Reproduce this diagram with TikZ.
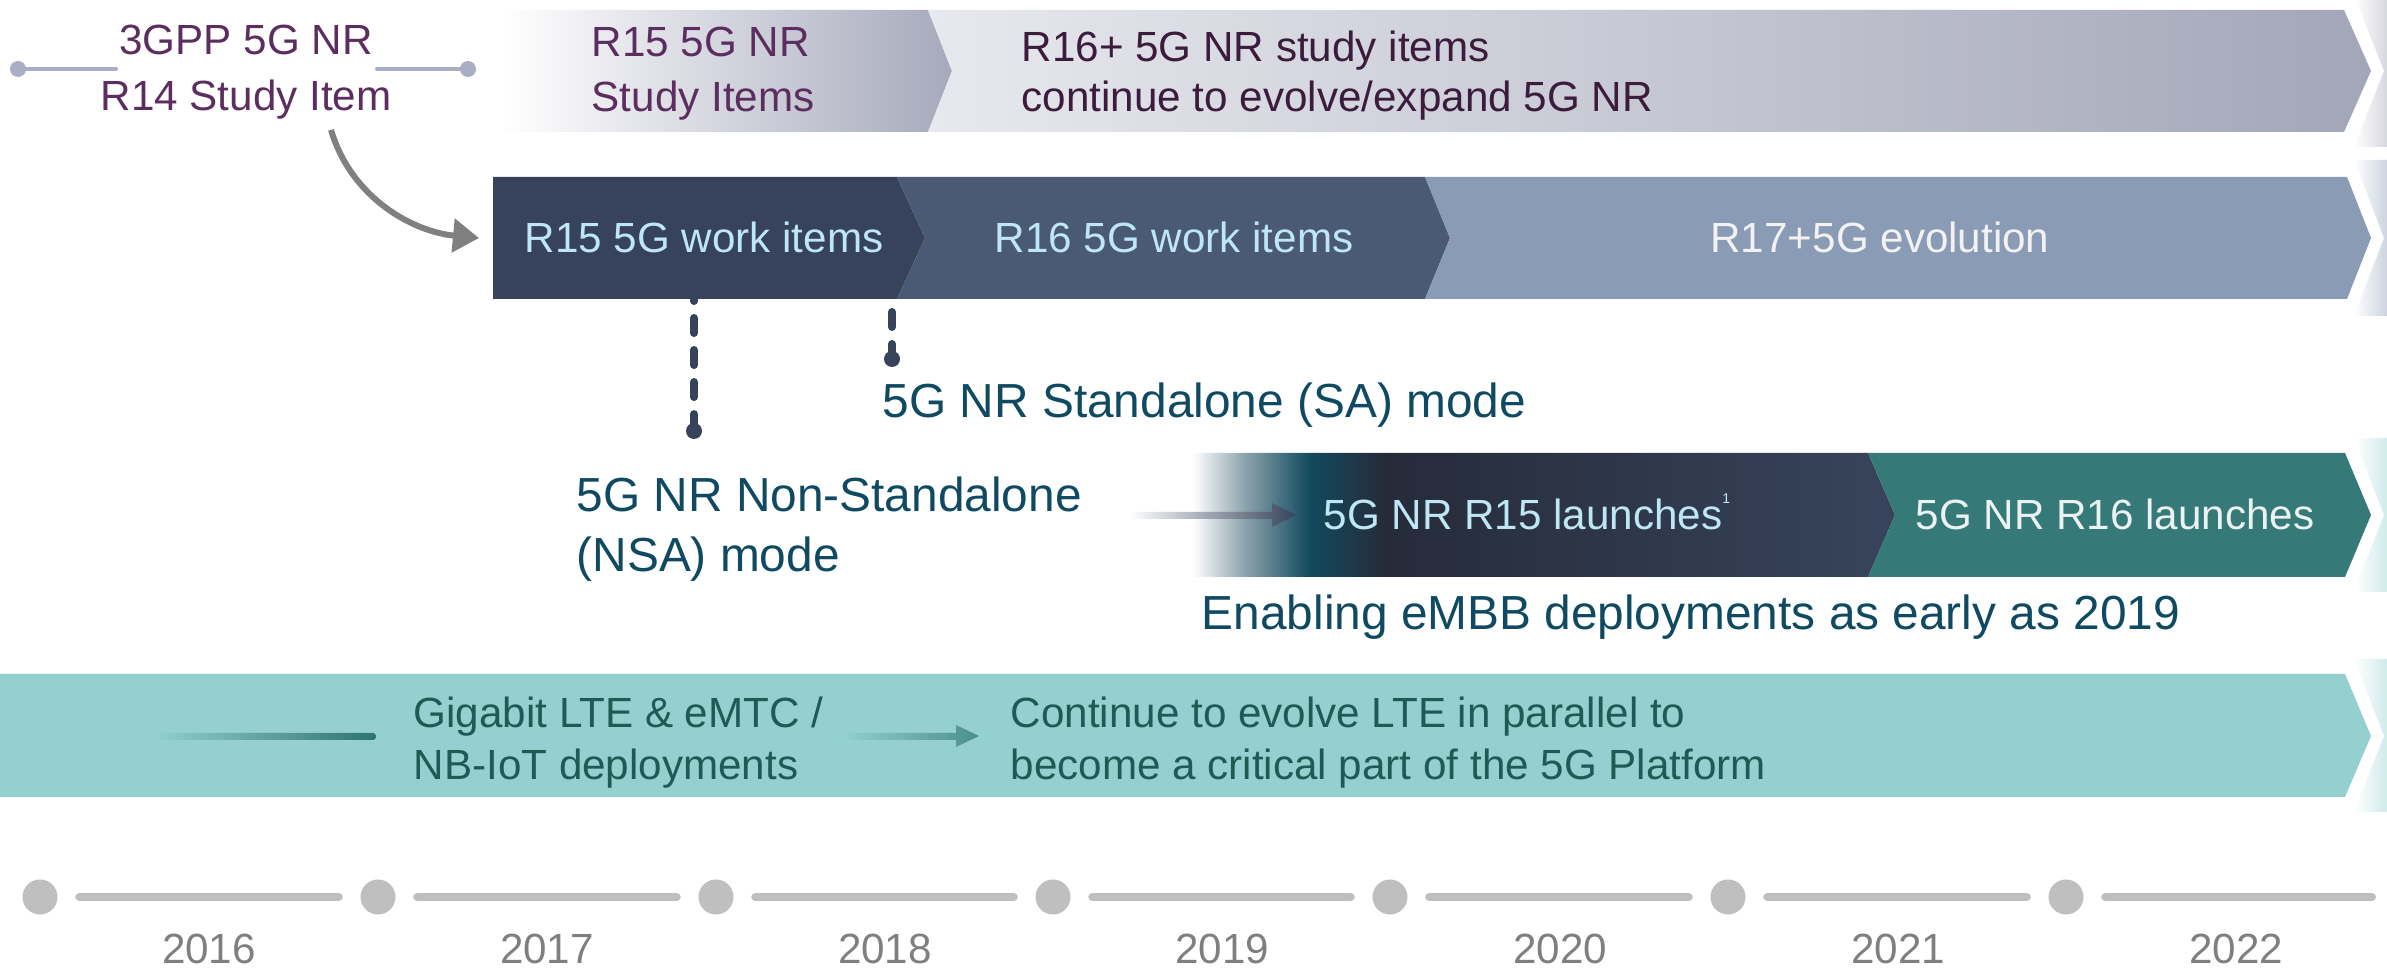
\documentclass[tikz,border=0pt]{standalone}
\usepackage{fontspec}
\setmainfont{Liberation Sans}
\usetikzlibrary{arrows.meta, positioning, calc}
\usepackage{xcolor}
\definecolor{studypurple}{HTML}{5C2E5F}
\definecolor{studydark}{HTML}{3B1C3C}
\definecolor{studymid}{HTML}{A7AABC}
\definecolor{studylight}{HTML}{E8E9EE}
\definecolor{studygrey}{HTML}{A3A6B8}
\definecolor{workdark}{HTML}{36435A}
\definecolor{workmid}{HTML}{4A5A75}
\definecolor{worklight}{HTML}{8A9BB5}
\definecolor{worktext}{HTML}{BFE6F5}
\definecolor{modeteal}{HTML}{0F4A62}
\definecolor{launchteal}{HTML}{357A78}
\definecolor{launchdeep}{HTML}{114A5E}
\definecolor{launchnight}{HTML}{262B3A}
\definecolor{launchhaze}{HTML}{8CA3AD}
\definecolor{ltefill}{HTML}{93D0CF}
\definecolor{ltetext}{HTML}{1F5A55}
\definecolor{ltedark}{HTML}{2E7470}
\definecolor{ltearrow}{HTML}{4A8F8C}
\definecolor{tickgrey}{HTML}{BFBFBF}
\definecolor{yeargrey}{HTML}{7F7F7F}
\definecolor{pingrey}{HTML}{A9AEC4}
\definecolor{bendgrey}{HTML}{808080}
\pgfdeclarehorizontalshading{launchfade}{100bp}{color(0bp)=(white); color(25bp)=(white);
    color(28.7bp)=(launchhaze); color(33.3bp)=(launchdeep); color(38.7bp)=(launchnight);
    color(73bp)=(workdark); color(100bp)=(workdark)}
\tikzset{
    label text/.style={
        inner sep=0pt,
        font=\fontsize{12}{15}\selectfont
    },
    study text/.style={
        label text,
        text=studypurple,
        align=left
    },
    work text/.style={
        label text,
        text=worktext
    },
    mode text/.style={
        inner sep=0pt,
        font=\fontsize{13.6}{17}\selectfont,
        text=modeteal,
        align=left
    },
    lte text/.style={
        label text,
        text=ltetext,
        align=left,
        font=\fontsize{12}{14.8}\selectfont
    },
    year text/.style={
        label text,
        text=yeargrey
    },
    pin dot/.style={
        circle,
        fill=pingrey,
        inner sep=0pt,
        minimum size=1.6mm
    },
    pin line/.style={
        draw=pingrey,
        line width=0.4mm,
        line cap=round
    },
    bend arrow/.style={
        draw=bendgrey,
        line width=0.6mm,
        -{Triangle[length=2.6mm, width=3.3mm]}
    },
    mode dash/.style={
        draw=workdark,
        line width=0.8mm,
        line cap=round,
        dash pattern=on 1.5mm off 1.7mm
    },
    mode pin/.style={
        circle,
        fill=workdark,
        inner sep=0pt,
        minimum size=1.6mm
    },
    year dot/.style={
        circle,
        fill=tickgrey,
        inner sep=0pt,
        minimum size=3.5mm
    },
    year line/.style={
        draw=tickgrey,
        line width=0.8mm,
        line cap=round,
        shorten <=2.1mm,
        shorten >=2.1mm
    }
}

\begin{document}
\begin{tikzpicture}[x=0.01cm, y=-0.01cm]
\useasboundingbox (0,0) rectangle (2387,971);

% === BANDS ===

% Study items row
\shade[left color=white, right color=studymid] (500,10) -- (928,10) -- (952,71) -- (928,132) -- (500,132) -- cycle;
\shade[left color=studylight, right color=studygrey] (928,10) -- (2344,10) -- (2371,71) -- (2344,132) -- (928,132) -- (952,71) -- cycle;
\shade[left color=white, right color=studygrey] (2354,-5) -- (2400,-5) -- (2430,71) -- (2400,147) -- (2354,147) -- (2384,71) -- cycle;

% Work items row
\fill[workdark] (493,177) -- (897,177) -- (925,238) -- (897,299) -- (493,299) -- cycle;
\fill[workmid] (897,177) -- (1425,177) -- (1450,238) -- (1425,299) -- (897,299) -- (925,238) -- cycle;
\fill[worklight] (1425,177) -- (2347,177) -- (2371,238) -- (2347,299) -- (1425,299) -- (1450,238) -- cycle;
\shade[left color=white, right color=worklight] (2354,160) -- (2400,160) -- (2430,238) -- (2400,316) -- (2354,316) -- (2384,238) -- cycle;

% Launches row
\shade[shading=launchfade] (1193,453) -- (1868,453) -- (1895,515) -- (1868,577) -- (1193,577) -- cycle;
\fill[launchteal] (1868,453) -- (2345,453) -- (2371,515) -- (2345,577) -- (1868,577) -- (1895,515) -- cycle;
\shade[left color=white, right color=ltefill] (2354,438) -- (2400,438) -- (2430,515) -- (2400,592) -- (2354,592) -- (2384,515) -- cycle;

% LTE row
\fill[ltefill] (0,674) -- (2345,674) -- (2371,736) -- (2345,797) -- (0,797) -- cycle;
\shade[left color=white, right color=ltefill] (2354,659) -- (2400,659) -- (2430,736) -- (2400,812) -- (2354,812) -- (2384,736) -- cycle;

% === TEXTS ===

\node[study text, align=center, font=\fontsize{12}{16}\selectfont] (gpp) at (246,72) {3GPP 5G NR\\R14 Study Item};
\node[study text, anchor=west, font=\fontsize{12}{15.6}\selectfont] (r15study) at (591,74) {R15 5G NR\\Study Items};
\node[study text, anchor=west, text=studydark, font=\fontsize{12}{14.2}\selectfont] (r16study) at (1021,76) {R16+ 5G NR study items\\continue to evolve/expand 5G NR};

\node[work text, anchor=base] (r15work) at (704,253) {R15 5G work items};
\node[work text, anchor=base] (r16work) at (1174,253) {R16 5G work items};
\node[work text, anchor=base, text=white!95!black] (r17work) at (1880,253) {R17+5G evolution};

\node[mode text, anchor=base west] (sa) at (882,418) {5G NR Standalone (SA) mode};
\node[mode text, anchor=west] (nsa) at (576,529) {5G NR Non-Standalone\\(NSA) mode};

\node[work text, anchor=base west] (r15launch) at (1323,530) {5G NR R15 launches\raisebox{1.2ex}{\fontsize{4}{4}\selectfont 1}};
\node[work text, anchor=base, text=white!90!launchteal] (r16launch) at (2115,530) {5G NR R16 launches};
\node[mode text, anchor=base west] (embb) at (1201,630) {Enabling eMBB deployments as early as 2019};

\node[lte text, anchor=west] (gigabit) at (413,743) {Gigabit LTE \& eMTC /\\NB-IoT deployments};
\node[lte text, anchor=west] (evolve) at (1010,743) {Continue to evolve LTE in parallel to\\become a critical part of the 5G Platform};

% === CONNECTORS ===

% R14 pins
\node[pin dot] (pinl) at (18,69) {};
\node[pin dot] (pinr) at (468,69) {};
\coordinate (pinlend) at (116,69);
\coordinate (pinrend) at (377,69);
\draw[pin line] (pinl.center) -- (pinlend);
\draw[pin line] (pinrend) -- (pinr.center);

% R14 -> R15 work items
\coordinate (r15edge) at (479,238);
\draw[bend arrow] ($(gpp.south)+(85,10)$) .. controls (352,200) and (415,232) .. (r15edge);

% NSA / SA markers
\coordinate (r15base) at (694,299);
\node[mode pin] (nsapin) at (694,431) {};
\draw[mode dash, dash phase=1.3mm] (r15base) -- (nsapin.center);
\coordinate (sabase) at (892,312);
\node[mode pin] (sapin) at (892,359) {};
\draw[mode dash] (sabase) -- (sapin.center);

% NSA -> R15 launches
\shade[left color=white, right color=workdark] (1129,512) -- (1272,512) -- (1272,503) -- (1296,515) -- (1272,527) -- (1272,519) -- (1129,519) -- cycle;

% LTE fades
\shade[left color=ltefill, right color=ltedark, rounded corners=0.3mm] (153,733) rectangle (376,740);
\shade[left color=ltefill, right color=ltearrow] (842,733) -- (956,733) -- (956,725) -- (979,736) -- (956,747) -- (956,740) -- (842,740) -- cycle;

% === TIMELINE ===

\node[year dot] (d16) at (40,897) {};
\node[year dot] (d17) at (378,897) {};
\node[year dot] (d18) at (716,897) {};
\node[year dot] (d19) at (1053,897) {};
\node[year dot] (d20) at (1390,897) {};
\node[year dot] (d21) at (1728,897) {};
\node[year dot] (d22) at (2066,897) {};
\coordinate (tend) at (2407,897);

\draw[year line] (d16) -- (d17);
\draw[year line] (d17) -- (d18);
\draw[year line] (d18) -- (d19);
\draw[year line] (d19) -- (d20);
\draw[year line] (d20) -- (d21);
\draw[year line] (d21) -- (d22);
\draw[year line, shorten >=3.5mm] (d22) -- (tend);

\node[year text, anchor=base] (y16) at (209,964) {2016};
\node[year text, anchor=base] (y17) at (547,964) {2017};
\node[year text, anchor=base] (y18) at (885,964) {2018};
\node[year text, anchor=base] (y19) at (1222,964) {2019};
\node[year text, anchor=base] (y20) at (1560,964) {2020};
\node[year text, anchor=base] (y21) at (1898,964) {2021};
\node[year text, anchor=base] (y22) at (2236,964) {2022};

\end{tikzpicture}
\end{document}
